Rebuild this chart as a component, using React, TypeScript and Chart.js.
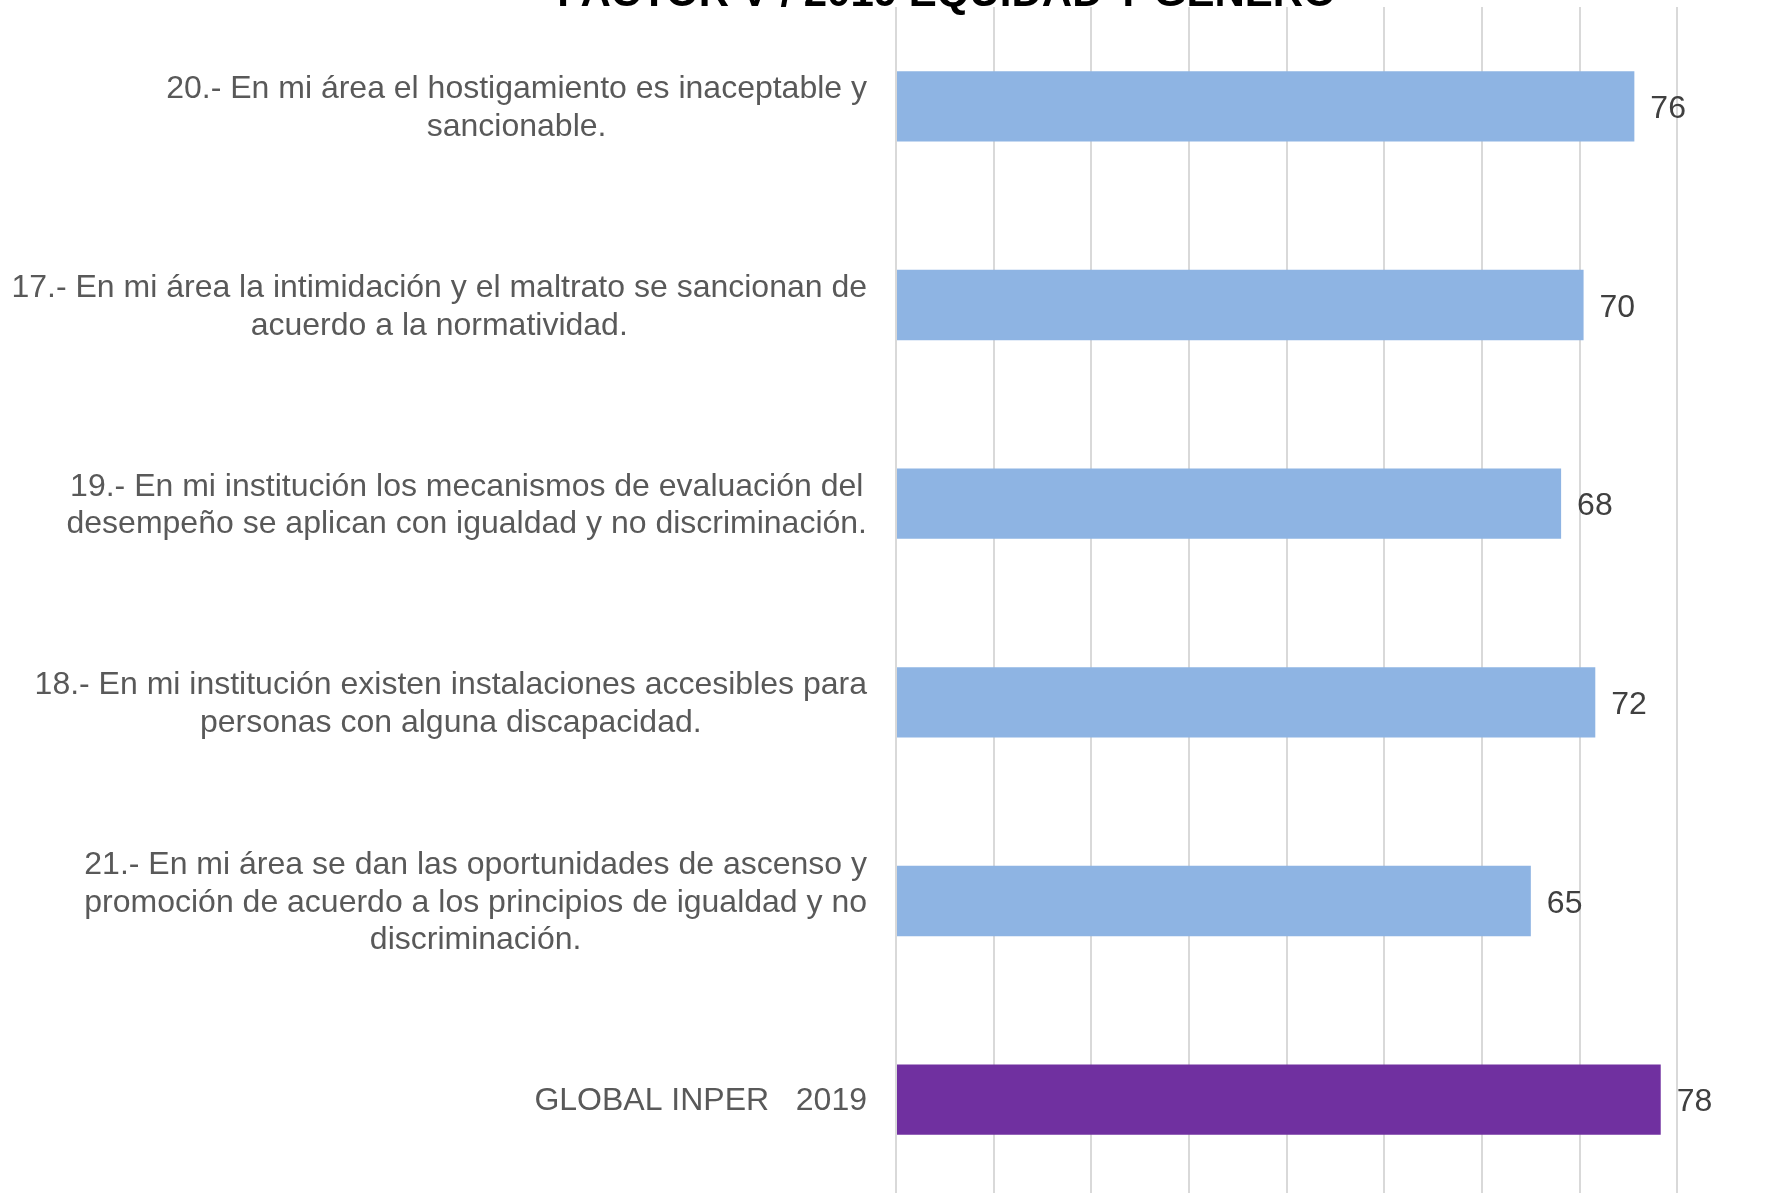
import React, { useEffect, useRef } from "react";
import { Chart, registerables } from "chart.js";

Chart.register(...registerables);

const TITLE = "FACTOR V / 2019 EQUIDAD Y GÉNERO";

const categories: string[][] = [
  ["20.- En mi área el hostigamiento es inaceptable y", "sancionable."],
  ["17.- En mi área la intimidación y el maltrato se sancionan de", "acuerdo a la normatividad."],
  ["19.- En mi institución los mecanismos de evaluación del", "desempeño se aplican con igualdad y no discriminación."],
  ["18.- En mi institución existen instalaciones accesibles para", "personas con alguna discapacidad."],
  [
    "21.- En mi área se dan las oportunidades de ascenso y",
    "promoción de acuerdo a los principios de igualdad y no",
    "discriminación.",
  ],
  ["GLOBAL INPER   2019"],
];

const values = [75.6, 70.4, 68.1, 71.6, 65.0, 78.3];
const valueLabels = ["76", "70", "68", "72", "65", "78"];
const barColors = ["#8EB4E3", "#8EB4E3", "#8EB4E3", "#8EB4E3", "#8EB4E3", "#7030A0"];

const xMin = 0;
const xMax = 90;
const xStep = 10;

const FONT_FAMILY = '"Liberation Sans", Arial, Helvetica, sans-serif';
const CANVAS_W = 1893;
const CANVAS_H = 1215;
const CANVAS_TOP = -16;
const SIDE_PAD = 118;
const PLOT_LEFT = 896;

export default function App() {
  const ref = useRef<HTMLCanvasElement | null>(null);

  useEffect(() => {
    const canvas = ref.current;
    if (!canvas) return;

    const categoryLabelPlugin = {
      id: "categoryLabels",
      afterDraw(chart: any) {
        const ctx = chart.ctx as CanvasRenderingContext2D;
        const yScale = chart.scales.y;
        const rightEdge = chart.chartArea.left - 29;
        const lineH = 37.5;
        ctx.save();
        ctx.font = `32px ${FONT_FAMILY}`;
        ctx.fillStyle = "#595959";
        ctx.textAlign = "center";
        ctx.textBaseline = "middle";
        categories.forEach((lines, i) => {
          const cy = yScale.getPixelForTick(i) + 2;
          const maxW = Math.max(...lines.map((l) => ctx.measureText(l).width));
          const cx = rightEdge - maxW / 2;
          const start = cy - ((lines.length - 1) * lineH) / 2;
          lines.forEach((l, j) => ctx.fillText(l, cx, start + j * lineH));
        });
        ctx.restore();
      },
    };

    const valueLabelPlugin = {
      id: "valueLabels",
      afterDatasetsDraw(chart: any) {
        const ctx = chart.ctx as CanvasRenderingContext2D;
        const meta = chart.getDatasetMeta(0);
        ctx.save();
        ctx.font = `32px ${FONT_FAMILY}`;
        ctx.fillStyle = "#404040";
        ctx.textAlign = "left";
        ctx.textBaseline = "middle";
        meta.data.forEach((bar: any, i: number) => {
          ctx.fillText(valueLabels[i], bar.x + 16, bar.y + 3);
        });
        ctx.restore();
      },
    };

    const chart = new Chart(canvas, {
      type: "bar",
      data: {
        labels: categories.map((c) => c.join(" ")),
        datasets: [
          {
            data: values,
            backgroundColor: barColors,
            borderWidth: 0,
            categoryPercentage: 1,
            barPercentage: 0.354,
          },
        ],
      },
      options: {
        indexAxis: "y",
        responsive: false,
        animation: false,
        devicePixelRatio: 1,
        layout: {
          padding: { left: SIDE_PAD, right: SIDE_PAD, top: 0, bottom: 0 },
        },
        plugins: {
          legend: { display: false },
          tooltip: { enabled: false },
          title: {
            display: true,
            text: TITLE,
            color: "#000000",
            font: { size: 42, weight: "bold", family: FONT_FAMILY, lineHeight: 0.5 },
            padding: { top: 0, bottom: 2 },
          },
        },
        scales: {
          x: {
            min: xMin,
            max: xMax,
            ticks: { display: false, stepSize: xStep },
            grid: { color: "#D9D9D9", lineWidth: 2, drawTicks: false },
            border: { display: false },
          },
          y: {
            ticks: { display: false },
            grid: { display: false, drawTicks: false },
            border: { display: false },
            afterFit(scale: any) {
              scale.width = PLOT_LEFT - SIDE_PAD;
            },
          },
        },
      },
      plugins: [categoryLabelPlugin, valueLabelPlugin],
    } as any);

    return () => chart.destroy();
  }, []);

  return (
    <div
      style={{
        position: "fixed",
        left: 0,
        top: 0,
        width: "100vw",
        height: "100vh",
        overflow: "hidden",
        background: "#ffffff",
      }}
    >
      <canvas
        ref={ref}
        width={CANVAS_W}
        height={CANVAS_H}
        style={{
          position: "absolute",
          left: 0,
          top: CANVAS_TOP,
          width: CANVAS_W,
          height: CANVAS_H,
        }}
      />
    </div>
  );
}
